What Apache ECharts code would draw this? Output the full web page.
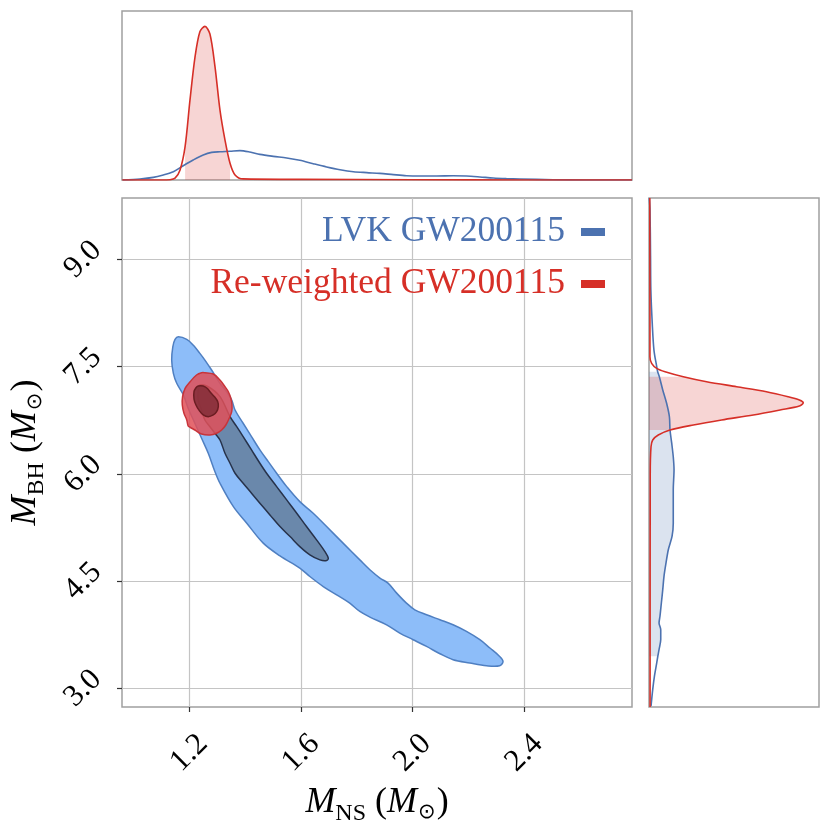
<!DOCTYPE html>
<html>
<head>
<meta charset="utf-8">
<script src="https://cdn.jsdelivr.net/npm/echarts@6.0.0/dist/echarts.min.js"></script>
<style>
  html, body { margin: 0; padding: 0; background: #fff; }
  #chart { width: 830px; height: 830px; }
</style>
</head>
<body>
<div id="chart"></div>
<script>
// ---- axis ranges and ticks ----
const NS_MIN = 0.959, NS_MAX = 2.786;
const BH_MIN = 2.74, BH_MAX = 9.86;
const nsTicks = [1.2, 1.6, 2.0, 2.4];
const bhTicks = [3.0, 4.5, 6.0, 7.5, 9.0];
const DENS_MAX = 11;

const seriesNames = ['LVK GW200115', 'Re-weighted GW200115'];

// ---- 2D credible regions [M_NS, M_BH] ----
const lvkOuter = [
  [1.161, 7.919], [1.191, 7.883], [1.214, 7.803], [1.238, 7.687], [1.256, 7.593],
  [1.280, 7.454], [1.310, 7.268], [1.334, 7.150], [1.352, 7.034], [1.364, 6.895],
  [1.393, 6.709], [1.423, 6.522], [1.453, 6.336], [1.483, 6.172], [1.513, 6.010],
  [1.549, 5.823], [1.596, 5.613], [1.644, 5.451], [1.692, 5.264], [1.751, 5.032],
  [1.811, 4.798], [1.847, 4.659], [1.883, 4.543], [1.912, 4.473], [1.943, 4.333],
  [1.978, 4.193], [2.008, 4.100], [2.050, 4.030], [2.098, 3.960], [2.145, 3.890],
  [2.193, 3.797], [2.241, 3.681], [2.277, 3.565], [2.312, 3.447], [2.324, 3.377],
  [2.312, 3.317], [2.265, 3.317], [2.205, 3.355], [2.145, 3.401], [2.098, 3.485],
  [2.050, 3.587], [2.002, 3.681], [1.954, 3.774], [1.907, 3.890], [1.847, 3.998],
  [1.811, 4.076], [1.775, 4.193], [1.728, 4.309], [1.680, 4.425], [1.632, 4.565],
  [1.596, 4.683], [1.525, 4.854], [1.465, 5.032], [1.406, 5.311], [1.358, 5.543],
  [1.310, 5.870], [1.292, 6.032], [1.268, 6.289], [1.244, 6.499], [1.220, 6.709],
  [1.196, 6.918], [1.179, 7.104], [1.155, 7.268], [1.143, 7.407], [1.137, 7.593],
  [1.141, 7.779], [1.149, 7.883]
];
const lvkInner = [
  [1.238, 7.244], [1.268, 7.220], [1.310, 7.081], [1.346, 6.801], [1.370, 6.661],
  [1.393, 6.522], [1.423, 6.336], [1.453, 6.150], [1.477, 6.010], [1.513, 5.823],
  [1.549, 5.637], [1.585, 5.451], [1.620, 5.264], [1.656, 5.078], [1.686, 4.914],
  [1.698, 4.822], [1.692, 4.789], [1.668, 4.798], [1.632, 4.868], [1.596, 4.984],
  [1.561, 5.124], [1.525, 5.264], [1.489, 5.427], [1.453, 5.591], [1.423, 5.731],
  [1.393, 5.870], [1.364, 6.010], [1.346, 6.150], [1.328, 6.289], [1.310, 6.475],
  [1.292, 6.569], [1.274, 6.661], [1.256, 6.755], [1.244, 6.895], [1.232, 7.034],
  [1.232, 7.174]
];
const rwOuter = [
  [1.256, 7.416], [1.286, 7.398], [1.310, 7.314], [1.328, 7.220], [1.340, 7.150],
  [1.349, 7.058], [1.353, 6.965], [1.352, 6.871], [1.343, 6.779], [1.331, 6.685],
  [1.316, 6.615], [1.298, 6.569], [1.274, 6.545], [1.244, 6.559], [1.220, 6.615],
  [1.203, 6.653], [1.196, 6.671], [1.191, 6.755], [1.181, 6.849], [1.175, 6.965],
  [1.176, 7.081], [1.185, 7.198], [1.203, 7.290], [1.226, 7.384], [1.244, 7.416]
];
const rwInner = [
  [1.232, 7.230], [1.250, 7.230], [1.264, 7.198], [1.277, 7.136], [1.292, 7.072],
  [1.302, 7.011], [1.304, 6.941], [1.298, 6.871], [1.286, 6.825], [1.268, 6.801],
  [1.250, 6.825], [1.236, 6.885], [1.224, 6.965], [1.217, 7.048], [1.217, 7.150],
  [1.224, 7.206]
];

// ---- marginal densities ----
// top: [M_NS, density]
const nsLvk = [
  [0.9615, 0], [1.0235, 0.065], [1.071, 0.17], [1.107, 0.33], [1.143, 0.54],
  [1.1785, 0.93], [1.214, 1.30], [1.250, 1.63], [1.280, 1.80], [1.310, 1.84],
  [1.346, 1.87], [1.3815, 1.91], [1.417, 1.82], [1.453, 1.67], [1.501, 1.54],
  [1.549, 1.43], [1.596, 1.28], [1.644, 1.06], [1.692, 0.85], [1.740, 0.67],
  [1.788, 0.54], [1.836, 0.48], [1.883, 0.43], [1.931, 0.35], [1.978, 0.28],
  [2.026, 0.26], [2.086, 0.26], [2.145, 0.28], [2.193, 0.26], [2.241, 0.20],
  [2.289, 0.13], [2.336, 0.09], [2.384, 0.065], [2.503, 0.02], [2.623, 0], [2.786, 0]
];
const nsRw = [
  [0.96, 0], [1.10, 0], [1.131, 0.02], [1.149, 0.12], [1.167, 0.65], [1.185, 2.17],
  [1.2025, 5.2], [1.2205, 8.0], [1.238, 9.65], [1.256, 10.0], [1.274, 9.5],
  [1.292, 7.4], [1.310, 4.55], [1.328, 2.6], [1.346, 1.09], [1.364, 0.33],
  [1.393, 0.07], [1.6, 0.04], [2.0, 0.02], [2.4, 0], [2.786, 0]
];
const nsRwBand = [1.185, 1.346];

// right: [density, M_BH]
const bhLvk = [
  [0.02, 9.86], [0.065, 9.689], [0.1, 9.04], [0.12, 8.572], [0.21, 8.106],
  [0.32, 7.733], [0.5, 7.5], [0.56, 7.43], [0.67, 7.36], [0.89, 7.175], [1.14, 6.988],
  [1.32, 6.8], [1.36, 6.615], [1.47, 6.43], [1.57, 6.24], [1.62, 6.057],
  [1.57, 5.777], [1.57, 5.498], [1.57, 5.312], [1.49, 5.126], [1.25, 4.94],
  [1.10, 4.754], [0.97, 4.567], [0.89, 4.381], [0.80, 4.195], [0.71, 4.009],
  [0.65, 3.916], [0.76, 3.822], [0.76, 3.683], [0.65, 3.543], [0.57, 3.45],
  [0.5, 3.357], [0.35, 3.17], [0.24, 2.984], [0.13, 2.751]
];
const bhRw = [
  [0.05, 9.86], [0.06, 8.0], [0.06, 7.64], [0.17, 7.547], [0.5, 7.477],
  [1.04, 7.43], [2.22, 7.36], [3.73, 7.29], [5.67, 7.22], [7.6, 7.15], [9.0, 7.08],
  [9.73, 7.034], [9.98, 6.997], [9.73, 6.95], [8.48, 6.895], [6.75, 6.825],
  [4.7, 6.755], [2.87, 6.685], [1.36, 6.615], [0.6, 6.545], [0.24, 6.475],
  [0.13, 6.38], [0.08, 6.0], [0.07, 2.74]
];
const bhLvkBand = [3.45, 7.43];
const bhRwBand = [6.615, 7.36];

// ---- style ----
const FONT = '"Liberation Serif", "DejaVu Serif", serif';
const BLUE = '#4c72b0';
const RED = '#d62f27';
const FRAME = '#a0a0a0';

function region(name, ring, fill, stroke, z) {
  return {
    type: 'custom', name, xAxisIndex: 1, yAxisIndex: 1, z, silent: true,
    data: ring,
    renderItem: (params, api) => {
      if (params.dataIndex !== 0) return null;
      return {
        type: 'polygon',
        shape: { points: ring.map(p => api.coord(p)), smooth: 0.35 },
        style: { fill, stroke, lineWidth: 1.5 }
      };
    }
  };
}

// vertical marginal fill (density on x axis)
function sideBand(name, curve, band, fill, z) {
  const pts = curve.filter(p => p[1] >= band[0] && p[1] <= band[1]);
  return {
    type: 'custom', name, xAxisIndex: 2, yAxisIndex: 2, z, silent: true,
    data: pts,
    renderItem: (params, api) => {
      if (params.dataIndex !== 0) return null;
      const ring = [[0, band[1]]].concat(pts, [[0, band[0]]]);
      return {
        type: 'polygon',
        shape: { points: ring.map(p => api.coord(p)) },
        style: { fill }
      };
    }
  };
}

function kde(name, data, color, xi, yi, z) {
  return {
    type: 'line', name, xAxisIndex: xi, yAxisIndex: yi, z, data,
    smooth: 0.3, showSymbol: false, silent: true,
    lineStyle: { color, width: 1.6 }, itemStyle: { color }
  };
}

const nameRich = {
  it: { fontFamily: FONT, fontStyle: 'italic', fontSize: 36, color: '#000' },
  up: { fontFamily: FONT, fontSize: 36, color: '#000' },
  sub: { fontFamily: FONT, fontSize: 24, color: '#000', padding: [22, 0, 0, 0] },
  sun: { fontFamily: '"DejaVu Sans", sans-serif', fontSize: 21, color: '#000', padding: [20, 1, 0, 1] }
};

const hidden = {
  axisLine: { show: false }, axisTick: { show: false },
  axisLabel: { show: false }, splitLine: { show: false }
};

const frame = { show: true, borderColor: FRAME, borderWidth: 1.5, backgroundColor: 'transparent', outerBoundsMode: 'none' };

const chart = echarts.init(document.getElementById('chart'));

chart.setOption({
  animation: false,
  backgroundColor: '#fff',
  grid: [
    Object.assign({ left: 122, top: 11, width: 510, height: 169 }, frame),
    Object.assign({ left: 122, top: 198, width: 510, height: 509 }, frame),
    Object.assign({ left: 649, top: 198, width: 170, height: 509 }, frame)
  ],
  legend: {
    orient: 'vertical', right: 220, top: 207, align: 'right',
    itemWidth: 24, itemHeight: 8, itemGap: 12, icon: 'rect',
    textStyle: { fontFamily: FONT, fontSize: 35.5, lineHeight: 40, padding: [0, 11, 0, 0] },
    data: [
      { name: seriesNames[0], itemStyle: { color: BLUE }, textStyle: { color: BLUE } },
      { name: seriesNames[1], itemStyle: { color: RED }, textStyle: { color: RED } }
    ]
  },
  xAxis: [
    Object.assign({ type: 'value', gridIndex: 0, min: NS_MIN, max: NS_MAX }, hidden),
    {
      type: 'value', gridIndex: 1, min: NS_MIN, max: NS_MAX,
      axisLine: { show: false },
      axisTick: { show: true, length: 5, customValues: nsTicks, lineStyle: { color: '#333', width: 1.2 } },
      axisLabel: {
        customValues: nsTicks, rotate: 45, align: 'center', verticalAlign: 'middle', margin: 46,
        fontFamily: FONT, fontSize: 31, color: '#000',
        formatter: v => v.toFixed(1)
      },
      splitLine: { show: true, lineStyle: { color: '#c4c4c4', width: 1.2 } },
      name: '{it|M}{sub|NS}{up| (}{it|M}{sun|⊙}{up|)}',
      nameLocation: 'middle', nameGap: 62,
      nameTextStyle: { rich: nameRich }
    },
    Object.assign({ type: 'value', gridIndex: 2, min: 0, max: DENS_MAX }, hidden)
  ],
  yAxis: [
    Object.assign({ type: 'value', gridIndex: 0, min: 0, max: DENS_MAX }, hidden),
    {
      type: 'value', gridIndex: 1, min: BH_MIN, max: BH_MAX,
      axisLine: { show: false },
      axisTick: { show: true, length: 5, customValues: bhTicks, lineStyle: { color: '#333', width: 1.2 } },
      axisLabel: {
        customValues: bhTicks, rotate: 45, align: 'center', verticalAlign: 'middle', margin: 39,
        fontFamily: FONT, fontSize: 31, color: '#000',
        formatter: v => v.toFixed(1)
      },
      splitLine: { show: true, lineStyle: { color: '#c4c4c4', width: 1.2 } },
      name: '{it|M}{sub|BH}{up| (}{it|M}{sun|⊙}{up|)}',
      nameLocation: 'middle', nameGap: 72,
      nameTextStyle: { rich: nameRich }
    },
    Object.assign({ type: 'value', gridIndex: 2, min: BH_MIN, max: BH_MAX }, hidden)
  ],
  series: [
    // joint panel
    region(seriesNames[0], lvkOuter, '#8dbdf9', '#4f7fc1', 2),
    region(seriesNames[0], lvkInner, '#6a88ab', '#27324a', 3),
    region(seriesNames[1], rwOuter, 'rgba(224,80,88,0.85)', '#c8343a', 4),
    region(seriesNames[1], rwInner, 'rgba(130,45,55,0.85)', '#6b1d22', 5),

    // top marginal
    {
      type: 'line', name: seriesNames[1], xAxisIndex: 0, yAxisIndex: 0, z: 2,
      data: nsRw.filter(p => p[0] >= nsRwBand[0] && p[0] <= nsRwBand[1]),
      smooth: 0.3, showSymbol: false, silent: true,
      lineStyle: { width: 0 }, itemStyle: { color: RED },
      areaStyle: { color: 'rgba(214,47,39,0.2)', opacity: 1 }
    },
    kde(seriesNames[0], nsLvk, BLUE, 0, 0, 3),
    kde(seriesNames[1], nsRw, RED, 0, 0, 4),

    // right marginal
    sideBand(seriesNames[0], bhLvk, bhLvkBand, 'rgba(76,114,176,0.2)', 2),
    sideBand(seriesNames[1], bhRw, bhRwBand, 'rgba(214,47,39,0.2)', 3),
    kde(seriesNames[0], bhLvk, BLUE, 2, 2, 4),
    kde(seriesNames[1], bhRw, RED, 2, 2, 5)
  ]
});

window.addEventListener('resize', () => chart.resize());
</script>
</body>
</html>
